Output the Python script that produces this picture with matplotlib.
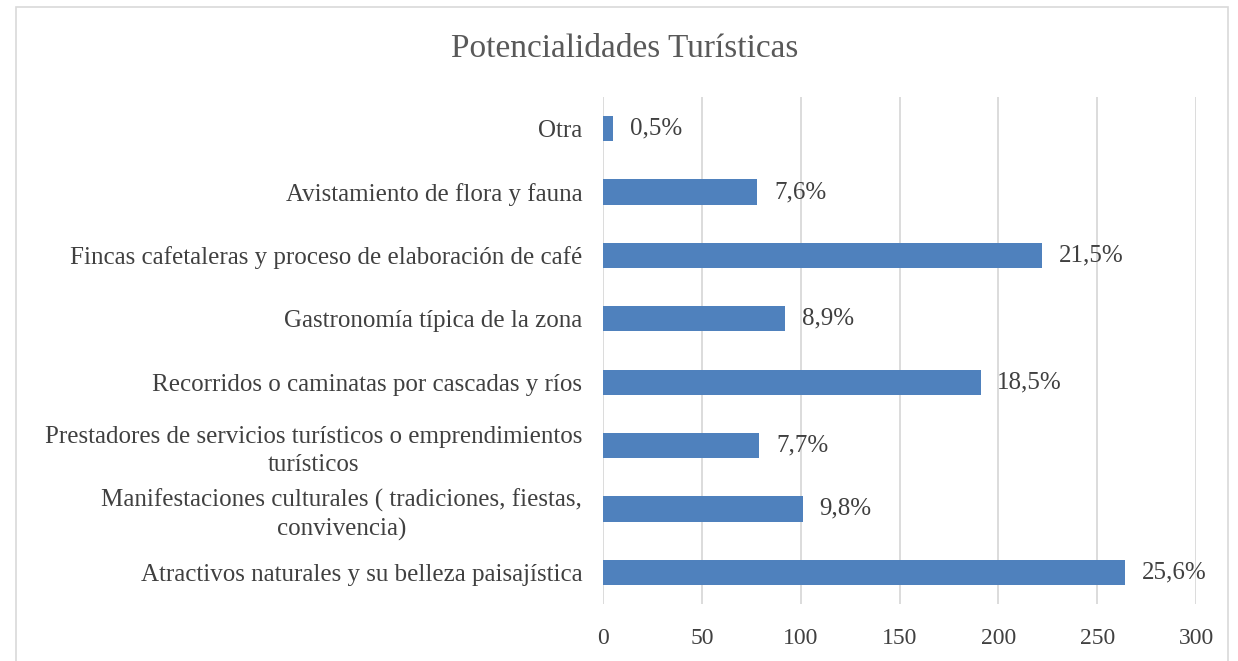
import matplotlib.pyplot as plt
from matplotlib.patches import Rectangle

plt.rcParams['font.family'] = ['Liberation Serif', 'DejaVu Serif']

# data (bottom to top, as drawn)
categories = [
    'Atractivos naturales y su belleza paisajística',
    'Manifestaciones culturales ( tradiciones, fiestas,\nconvivencia)',
    'Prestadores de servicios turísticos o emprendimientos\nturísticos',
    'Recorridos o caminatas por cascadas y ríos',
    'Gastronomía típica de la zona',
    'Fincas cafetaleras y proceso de elaboración de café',
    'Avistamiento de flora y fauna',
    'Otra',
]
counts = [264, 101, 79, 191, 92, 222, 78, 5]
pct_labels = ['25,6%', '9,8%', '7,7%', '18,5%', '8,9%', '21,5%', '7,6%', '0,5%']
x_ticks = [0, 50, 100, 150, 200, 250, 300]

text_color = '#404040'
bar_color = '#4F81BD'
grid_color = '#D9D9D9'

fig = plt.figure(figsize=(12.38, 6.61), dpi=100)
ax = fig.add_axes([603 / 1238, 1 - 604 / 661, (1196 - 603) / 1238, (604 - 97) / 661])

# outer chart frame (cut at the bottom)
fig.patches.append(Rectangle((16 / 1238, -0.1), (1228 - 16) / 1238, 1.1 - 7 / 661,
                             transform=fig.transFigure, fill=False,
                             edgecolor=grid_color, linewidth=1.2))

y = range(len(categories))
bars = ax.barh(y, counts, height=0.4, color=bar_color, zorder=3)
for b, lab in zip(bars, pct_labels):
    ax.text(b.get_width() + 8.5, b.get_y() + b.get_height() / 2, lab,
            va='center', ha='left', fontsize=18, color=text_color)

ax.set_xlim(0, 300)
ax.set_ylim(-0.5, len(categories) - 0.5)
ax.set_xticks(x_ticks)
ax.set_yticks(list(y))
ax.set_yticklabels(categories)
for lbl in ax.get_yticklabels():
    lbl.set_multialignment('center')
    lbl.set_linespacing(1.35)

ax.tick_params(axis='y', length=0, pad=15, labelsize=18, labelcolor=text_color)
ax.tick_params(axis='x', length=0, pad=17, labelsize=17, labelcolor=text_color)
ax.grid(axis='x', color=grid_color, linewidth=1.3, zorder=0)
for s in ax.spines.values():
    s.set_visible(False)

fig.text(625 / 1238, 1 - 49 / 661, 'Potencialidades Turísticas', ha='center', va='center',
         fontsize=24, color='#595959')

fig.savefig('out.png', dpi=100)
